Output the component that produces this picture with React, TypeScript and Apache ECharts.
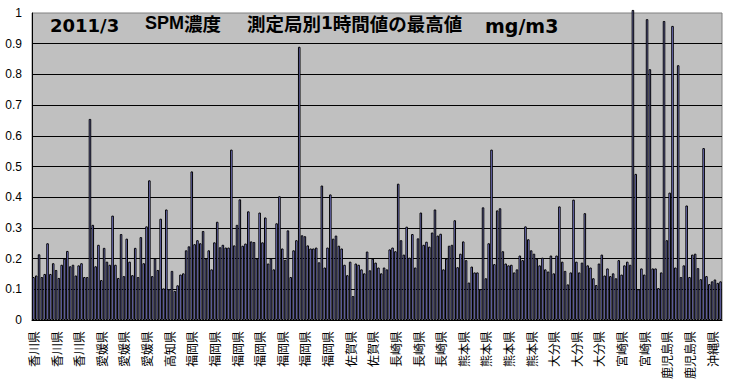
import React, { useEffect, useRef } from "react";
import * as echarts from "echarts";

// Tick labels on the category axis (one every 8 stations)
const tickLabels: string[] = [
  "香川県", "香川県", "香川県", "愛媛県", "愛媛県", "愛媛県", "高知県",
  "福岡県", "福岡県", "福岡県", "福岡県", "福岡県", "福岡県", "福岡県",
  "佐賀県", "佐賀県", "長崎県", "長崎県", "長崎県",
  "熊本県", "熊本県", "熊本県", "熊本県", "大分県", "大分県", "大分県",
  "宮崎県", "宮崎県", "鹿児島県", "鹿児島県", "沖縄県",
];
const labelStep = 8;

// Max 1-hour SPM value per station (mg/m3)
const spmPart1: number[] = [
  0.14, 0.145, 0.214, 0.14, 0.15, 0.25, 0.15, 0.185, 0.163, 0.137,
  0.18, 0.2, 0.225, 0.175, 0.18, 0.145, 0.178, 0.185, 0.14, 0.14,
  0.655, 0.31, 0.175, 0.245, 0.13, 0.235, 0.19, 0.18, 0.34, 0.18,
  0.137, 0.28, 0.143, 0.265, 0.19, 0.146, 0.235, 0.14, 0.27, 0.185,
  0.305, 0.455, 0.143, 0.2, 0.163, 0.33, 0.103, 0.36, 0.1,
];
const spmPart2: number[] = [
  0.16, 0.095, 0.113, 0.148, 0.152, 0.227, 0.24, 0.484, 0.247, 0.26,
  0.25, 0.29, 0.2, 0.227, 0.165, 0.253, 0.32, 0.237, 0.245, 0.236,
  0.236, 0.555, 0.243, 0.31, 0.393, 0.242, 0.249, 0.354, 0.256, 0.254,
  0.2, 0.35, 0.253, 0.334, 0.184, 0.2, 0.165, 0.315, 0.403, 0.233,
  0.196, 0.292, 0.14, 0.227, 0.26, 0.89, 0.276, 0.273, 0.243,
];
const spmPart3: number[] = [
  0.233, 0.233, 0.236, 0.188, 0.438, 0.171, 0.236, 0.409, 0.265, 0.275,
  0.242, 0.233, 0.18, 0.146, 0.19, 0.078, 0.184, 0.18, 0.165, 0.152,
  0.223, 0.162, 0.2, 0.187, 0.171, 0.152, 0.171, 0.165, 0.23, 0.236,
  0.224, 0.444, 0.26, 0.213, 0.304, 0.203, 0.28, 0.171, 0.266, 0.35,
  0.245, 0.255, 0.239, 0.285, 0.36, 0.275, 0.281, 0.165,
];
const spmPart4: number[] = [
  0.2, 0.242, 0.245, 0.325, 0.172, 0.216, 0.256, 0.195, 0.122, 0.174,
  0.155, 0.155, 0.1, 0.367, 0.136, 0.25, 0.555, 0.182, 0.357, 0.364,
  0.224, 0.184, 0.178, 0.18, 0.155, 0.165, 0.21, 0.195, 0.305, 0.263,
  0.227, 0.216, 0.2, 0.178, 0.203, 0.165, 0.158, 0.21, 0.152, 0.21,
  0.37, 0.19, 0.16, 0.116, 0.155, 0.392, 0.19, 0.155, 0.187,
];
const spmPart5: number[] = [
  0.348, 0.178, 0.171, 0.136, 0.114, 0.184, 0.213, 0.145, 0.168, 0.143,
  0.152, 0.136, 0.195, 0.148, 0.178, 0.19, 0.18, 1.01, 0.476, 0.1,
  0.168, 0.148, 0.98, 0.817, 0.168, 0.168, 0.104, 0.155, 0.974, 0.26,
  0.415, 0.958, 0.171, 0.83, 0.14, 0.178, 0.373, 0.14, 0.213, 0.216,
  0.169, 0.133, 0.56, 0.143, 0.117, 0.126, 0.132, 0.121, 0.126,
];

const yMin = 0;
const yMax = 1;
const yStep = 0.1;

const App: React.FC = () => {
  const ref = useRef<HTMLDivElement>(null);

  useEffect(() => {
    if (!ref.current) return;
    const chart = echarts.init(ref.current, undefined, { renderer: "svg" });
    const values = [...spmPart1, ...spmPart2, ...spmPart3, ...spmPart4, ...spmPart5];
    const categories = values.map((_, i) => String(i));
    const cjk = "'Noto Sans CJK JP', sans-serif";
    const latinWide = "'DejaVu Sans', sans-serif";
    const latinNarrow = "'Liberation Sans', Arial, sans-serif";

    chart.setOption({
      animation: false,
      backgroundColor: "#ffffff",
      grid: {
        left: 32,
        right: 7,
        top: 13,
        bottom: 67,
        show: true,
        backgroundColor: "#C0C0C0",
        borderColor: "#808080",
        borderWidth: 1,
      },
      xAxis: {
        type: "category",
        data: categories,
        boundaryGap: true,
        axisLine: { show: true, lineStyle: { color: "#000", width: 1 } },
        axisTick: { show: false },
        splitLine: { show: false },
        axisLabel: {
          interval: labelStep - 1,
          rotate: 90,
          margin: 11,
          fontSize: 12,
          color: "#000",
          fontFamily: cjk,
          formatter: (_v: string, idx: number) => tickLabels[Math.floor(idx / labelStep)] ?? "",
        },
      },
      yAxis: {
        type: "value",
        min: yMin,
        max: yMax,
        interval: yStep,
        axisLine: { show: true, lineStyle: { color: "#000", width: 1 } },
        axisTick: { show: false },
        splitLine: { show: true, showMaxLine: false, lineStyle: { color: "#000", width: 1 } },
        axisLabel: {
          margin: 10,
          fontSize: 12,
          color: "#000",
          fontFamily: latinNarrow,
          formatter: (v: number) => String(Math.round(v * 10) / 10),
        },
      },
      series: [
        {
          type: "bar",
          data: values,
          barCategoryGap: "10%",
          clip: false,
          itemStyle: { color: "#9999FF", borderColor: "#000", borderWidth: 1 },
        },
      ],
      graphic: [
        {
          type: "text",
          left: 50,
          top: 16,
          style: { text: "2011/3", font: `bold 18px ${latinWide}`, fill: "#000" },
        },
        {
          type: "text",
          left: 145,
          top: 14,
          style: {
            text: "{a|SPM}{b|濃度}",
            fill: "#000",
            rich: {
              a: { fontFamily: latinNarrow, fontWeight: "bold", fontSize: 18 },
              b: { fontFamily: cjk, fontWeight: "bold", fontSize: 18.5 },
            },
          },
        },
        {
          type: "text",
          left: 247,
          top: 14,
          style: {
            text: "{b|測定局別}{a|1}{b|時間値の最高値}",
            fill: "#000",
            rich: {
              a: { fontFamily: latinWide, fontWeight: "bold", fontSize: 17 },
              b: { fontFamily: cjk, fontWeight: "bold", fontSize: 18.5 },
            },
          },
        },
        {
          type: "text",
          left: 485,
          top: 16,
          style: { text: "mg/m3", font: `bold 19px ${latinWide}`, fill: "#000" },
        },
      ],
    });
    return () => chart.dispose();
  }, []);

  return (
    <div
      ref={ref}
      style={{ position: "fixed", left: 0, top: 0, width: 729, height: 387 }}
    />
  );
};

export default App;
